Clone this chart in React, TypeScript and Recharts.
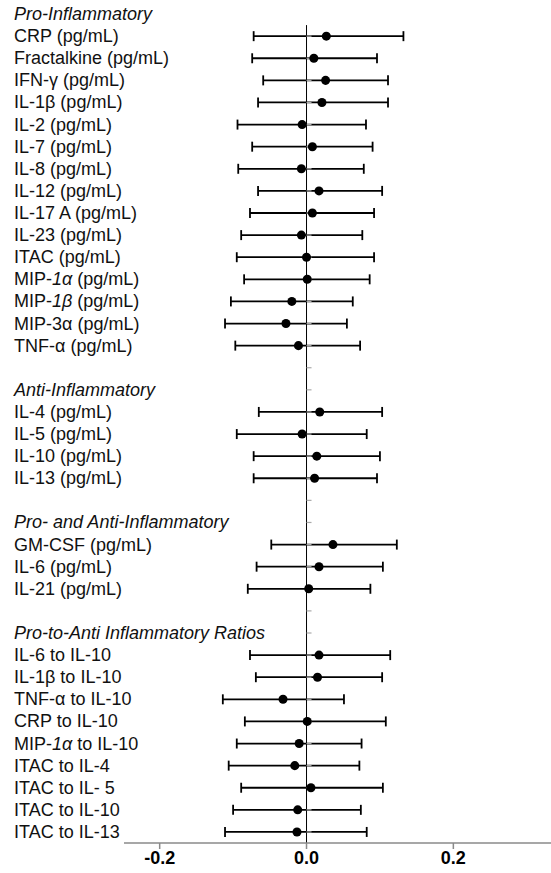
import { ScatterChart, Scatter, XAxis, YAxis, ErrorBar, ReferenceLine } from "recharts"

const groupTitles = [
  "Pro-Inflammatory",
  "Anti-Inflammatory",
  "Pro- and Anti-Inflammatory",
  "Pro-to-Anti Inflammatory Ratios",
]

// *...* marks italic parts of a label
const proLabels = [
  "CRP (pg/mL)", "Fractalkine (pg/mL)", "IFN-γ (pg/mL)", "IL-1β (pg/mL)", "IL-2 (pg/mL)",
  "IL-7 (pg/mL)", "IL-8 (pg/mL)", "IL-12 (pg/mL)", "IL-17 A (pg/mL)", "IL-23 (pg/mL)",
  "ITAC (pg/mL)", "MIP-*1α* (pg/mL)", "MIP-*1β* (pg/mL)", "MIP-3α (pg/mL)", "TNF-α (pg/mL)",
]
const proEst = [0.027, 0.010, 0.026, 0.021, -0.006, 0.008, -0.007, 0.017, 0.008, -0.007, 0.000, 0.001, -0.020, -0.028, -0.011]
const proLow = [-0.072, -0.074, -0.059, -0.066, -0.094, -0.074, -0.093, -0.066, -0.077, -0.089, -0.095, -0.085, -0.103, -0.111, -0.097]
const proHigh = [0.132, 0.096, 0.111, 0.111, 0.081, 0.090, 0.078, 0.103, 0.092, 0.076, 0.092, 0.086, 0.063, 0.055, 0.073]

const antiLabels = ["IL-4 (pg/mL)", "IL-5 (pg/mL)", "IL-10 (pg/mL)", "IL-13 (pg/mL)"]
const antiEst = [0.018, -0.006, 0.014, 0.011]
const antiLow = [-0.065, -0.095, -0.072, -0.072]
const antiHigh = [0.103, 0.082, 0.100, 0.096]

const bothLabels = ["GM-CSF (pg/mL)", "IL-6 (pg/mL)", "IL-21 (pg/mL)"]
const bothEst = [0.036, 0.017, 0.003]
const bothLow = [-0.048, -0.068, -0.080]
const bothHigh = [0.123, 0.104, 0.087]

const ratioLabels = [
  "IL-6 to IL-10", "IL-1β to IL-10", "TNF-α to IL-10", "CRP to IL-10", "MIP-*1α* to IL-10",
  "ITAC to IL-4", "ITAC to IL- 5", "ITAC to IL-10", "ITAC to IL-13",
]
const ratioEst = [0.017, 0.015, -0.032, 0.001, -0.010, -0.016, 0.006, -0.012, -0.013]
const ratioLow = [-0.077, -0.069, -0.114, -0.084, -0.095, -0.106, -0.089, -0.100, -0.111]
const ratioHigh = [0.114, 0.103, 0.051, 0.108, 0.075, 0.072, 0.104, 0.074, 0.082]

const xTicks = [-0.2, 0, 0.2]

const groups = [
  { labels: proLabels, est: proEst, low: proLow, high: proHigh },
  { labels: antiLabels, est: antiEst, low: antiLow, high: antiHigh },
  { labels: bothLabels, est: bothEst, low: bothLow, high: bothHigh },
  { labels: ratioLabels, est: ratioEst, low: ratioLow, high: ratioHigh },
]

// one entry per row, top to bottom: header, items, blank
const rowLabels: { text: string; header: boolean }[] = []
const points: { row: number; est: number; err: number[] }[] = []
groups.forEach((g, gi) => {
  rowLabels.push({ text: groupTitles[gi], header: true })
  g.labels.forEach((lab, i) => {
    points.push({ row: rowLabels.length, est: g.est[i], err: [g.est[i] - g.low[i], g.high[i] - g.est[i]] })
    rowLabels.push({ text: lab, header: false })
  })
  if (gi < groups.length - 1) rowLabels.push({ text: "", header: false })
})
const rowCount = rowLabels.length
const rowTicks = rowLabels.map((_, i) => i)
const axisMarks = rowTicks.slice(1).map((r) => ({ row: r, est: 0 }))

const FONT = "'Liberation Sans', Arial, sans-serif"

function RowLabel(props: any) {
  const { y, payload } = props
  const item = rowLabels[payload.value]
  if (!item || !item.text) return null
  const parts = item.text.split("*")
  return (
    <text x={14} y={y} dominantBaseline="central" fontSize={18} fontFamily={FONT} fill="#111"
      fontStyle={item.header ? "italic" : "normal"}>
      {parts.map((p, i) => (
        <tspan key={i} fontStyle={item.header || i % 2 === 1 ? "italic" : "normal"}>{p}</tspan>
      ))}
    </text>
  )
}

function AxisMark(props: any) {
  const { cx, cy } = props
  return <line x1={cx} y1={cy} x2={cx + 5} y2={cy} stroke="#aaa" strokeWidth={1.2} />
}

export default function App() {
  return (
    <div style={{ position: "absolute", left: 0, top: 0, width: 551, height: 873, background: "#fff" }}>
      <ScatterChart width={551} height={873} margin={{ top: 3, right: 0, left: 0, bottom: 0 }}>
        <XAxis
          type="number"
          dataKey="est"
          domain={[-0.2486, 0.333]}
          allowDataOverflow
          ticks={xTicks}
          tickFormatter={(v: number) => v.toFixed(1)}
          stroke="#8a8a8a"
          strokeWidth={1.5}
          tickSize={6}
          tick={{ fill: "#000", fontSize: 18, fontWeight: "bold", fontFamily: FONT }}
          height={30}
        />
        <YAxis
          type="number"
          dataKey="row"
          domain={[-0.5, rowCount - 0.5]}
          reversed
          ticks={rowTicks}
          interval={0}
          axisLine={false}
          tickLine={false}
          width={124}
          tick={<RowLabel />}
        />
        <ReferenceLine
          segment={[{ x: 0, y: 0.5 }, { x: 0, y: rowCount - 0.5 }]}
          stroke="#000"
          strokeWidth={1}
        />
        <Scatter data={axisMarks} shape={<AxisMark />} isAnimationActive={false} />
        <Scatter data={points} fill="#000" isAnimationActive={false}>
          <ErrorBar dataKey="err" direction="x" width={5} stroke="#000" strokeWidth={1.8} />
        </Scatter>
      </ScatterChart>
    </div>
  )
}
